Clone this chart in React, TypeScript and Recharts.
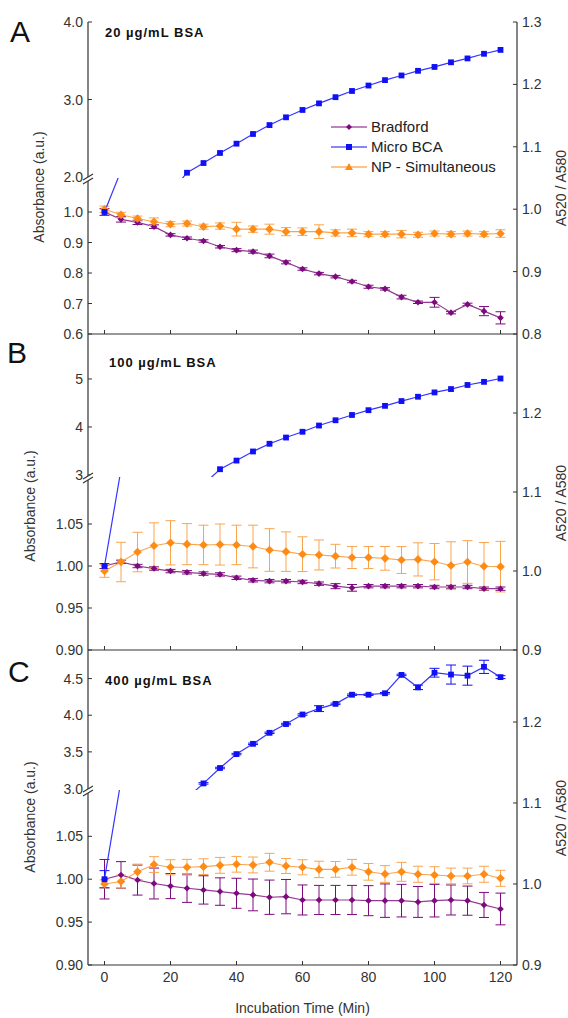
import { ComposedChart, Line, XAxis, YAxis, ErrorBar, Legend } from 'recharts';

const time = [0, 5, 10, 15, 20, 25, 30, 35, 40, 45, 50, 55, 60, 65, 70, 75, 80, 85, 90, 95, 100, 105, 110, 115, 120];
const xTicks = [0, 20, 40, 60, 80, 100, 120];

// A - 20 µg/mL BSA
const bradfordA = [1.0, 0.976, 0.966, 0.952, 0.925, 0.914, 0.905, 0.886, 0.875, 0.87, 0.856, 0.835, 0.813, 0.798, 0.788, 0.772, 0.755, 0.748, 0.721, 0.704, 0.704, 0.67, 0.697, 0.675, 0.653];
const bradfordAErr = [0.011, 0.009, 0.007, 0.006, 0.004, 0.004, 0.004, 0.004, 0.005, 0.005, 0.006, 0.005, 0.004, 0.004, 0.004, 0.004, 0.005, 0.004, 0.006, 0.004, 0.016, 0.004, 0.004, 0.015, 0.02];
const microBcaA = [1.0, 1.135, 1.4, 1.6, 1.8, 2.055, 2.18, 2.31, 2.43, 2.555, 2.67, 2.77, 2.865, 2.95, 3.03, 3.11, 3.18, 3.25, 3.31, 3.37, 3.42, 3.48, 3.53, 3.59, 3.64];
const npA = [1.0, 0.991, 0.985, 0.98, 0.976, 0.977, 0.972, 0.973, 0.968, 0.968, 0.968, 0.964, 0.964, 0.964, 0.962, 0.962, 0.96, 0.96, 0.96, 0.959, 0.961, 0.96, 0.961, 0.96, 0.961];
const npAErr = [0.005, 0.004, 0.004, 0.006, 0.004, 0.004, 0.004, 0.005, 0.011, 0.005, 0.008, 0.0065, 0.006, 0.011, 0.005, 0.006, 0.004, 0.004, 0.006, 0.004, 0.004, 0.004, 0.004, 0.004, 0.006];

// B - 100 µg/mL BSA
const bradfordB = [1.0, 1.005, 1.0, 0.997, 0.994, 0.9925, 0.991, 0.99, 0.986, 0.983, 0.982, 0.982, 0.981, 0.979, 0.976, 0.974, 0.976, 0.976, 0.976, 0.976, 0.975, 0.975, 0.975, 0.973, 0.973];
const bradfordBErr = [0.003, 0.002, 0.002, 0.002, 0.002, 0.002, 0.002, 0.002, 0.002, 0.002, 0.002, 0.002, 0.002, 0.002, 0.003, 0.004, 0.002, 0.002, 0.002, 0.002, 0.002, 0.002, 0.002, 0.002, 0.002];
const microBcaB = [1.0, 1.115, 1.6, 2.0, 2.3, 2.55, 2.8, 3.12, 3.3, 3.49, 3.65, 3.78, 3.9, 4.03, 4.14, 4.25, 4.35, 4.44, 4.54, 4.63, 4.72, 4.79, 4.875, 4.94, 5.01];
const npB = [1.0, 1.0114, 1.024, 1.032, 1.0357, 1.034, 1.033, 1.0335, 1.033, 1.031, 1.0266, 1.0245, 1.0213, 1.0203, 1.0188, 1.0171, 1.0171, 1.016, 1.0139, 1.0147, 1.0118, 1.007, 1.0114, 1.006, 1.0055];
const npBErr = [0.008, 0.025, 0.025, 0.029, 0.028, 0.026, 0.025, 0.026, 0.025, 0.027, 0.027, 0.025, 0.022, 0.019, 0.015, 0.014, 0.014, 0.015, 0.017, 0.021, 0.023, 0.03, 0.027, 0.03, 0.032];

// C - 400 µg/mL BSA
const bradfordC = [1.0, 1.005, 0.999, 0.995, 0.992, 0.9895, 0.9875, 0.9856, 0.9836, 0.9817, 0.979, 0.9797, 0.9758, 0.9758, 0.9758, 0.9758, 0.975, 0.975, 0.975, 0.9735, 0.975, 0.9758, 0.975, 0.97, 0.9653];
const bradfordCErr = [0.023, 0.0155, 0.0175, 0.018, 0.0146, 0.0165, 0.0165, 0.016, 0.0175, 0.0185, 0.02, 0.02, 0.0175, 0.017, 0.017, 0.017, 0.0175, 0.0195, 0.019, 0.018, 0.019, 0.0175, 0.017, 0.0146, 0.0185];
const microBcaC = [1.0, 1.115, 1.6, 2.1, 2.5, 2.87, 3.07, 3.28, 3.47, 3.61, 3.76, 3.88, 4.01, 4.09, 4.155, 4.28, 4.28, 4.3, 4.55, 4.38, 4.58, 4.555, 4.54, 4.66, 4.52];
const microBcaCErr = [0.01, 0, 0, 0, 0, 0, 0.01, 0.01, 0.01, 0.01, 0.01, 0.01, 0.01, 0.04, 0.01, 0.01, 0.01, 0.01, 0.01, 0.03, 0.06, 0.13, 0.13, 0.09, 0.02];
const npC = [1.0, 1.003, 1.015, 1.024, 1.0206, 1.0206, 1.0214, 1.023, 1.0243, 1.0235, 1.0268, 1.0222, 1.0206, 1.018, 1.018, 1.0206, 1.015, 1.0123, 1.015, 1.012, 1.011, 1.0099, 1.0099, 1.012, 1.007];
const npCErr = [0.005, 0.008, 0.0095, 0.0097, 0.0093, 0.0098, 0.0097, 0.0098, 0.0097, 0.0098, 0.011, 0.0093, 0.0093, 0.0101, 0.0097, 0.0097, 0.0103, 0.0103, 0.0117, 0.0099, 0.0103, 0.0097, 0.0097, 0.0099, 0.0099];

const seriesNames = ['Bradford', 'Micro BCA', 'NP - Simultaneous'];

const FONT = '"Liberation Sans", Arial, sans-serif';
const AXIS = '#333';
const PURPLE = '#7d0a7d';
const PURPLE_LINE = '#943a94';
const BLUE = '#1010f5';
const BLUE_LINE = '#3535ff';
const ORANGE = '#ff8a14';
const ORANGE_LINE = '#f9a54e';

type Row = { t: number; brad: number; bradErr: number; np: number; npErr: number; bca: number; bcaErr: number };

const makeRows = (brad: number[], bradErr: number[], bca: number[], bcaErr: number[] | null, np: number[], npErr: number[]): Row[] =>
  time.map((t, i) => ({
    t,
    brad: brad[i],
    bradErr: bradErr[i],
    np: np[i],
    npErr: npErr[i],
    bca: bca[i],
    bcaErr: bcaErr ? bcaErr[i] : 0,
  }));

const diamondDot = (r: number, fill: string) => (p: any) => {
  const { cx, cy, index } = p;
  if (cx == null || cy == null) return <g key={`e${index}`} />;
  return <path key={`d${index}`} d={`M${cx},${cy - r}L${cx + r},${cy}L${cx},${cy + r}L${cx - r},${cy}Z`} fill={fill} />;
};

const squareDot = (s: number, fill: string) => (p: any) => {
  const { cx, cy, index } = p;
  if (cx == null || cy == null) return <g key={`e${index}`} />;
  return <rect key={`s${index}`} x={cx - s / 2} y={cy - s / 2} width={s} height={s} fill={fill} />;
};

const leftTick = (digits: number) => (p: any) => {
  const { x, y, payload } = p;
  return (
    <g>
      <line x1={x} x2={x + 4} y1={y} y2={y} stroke={AXIS} />
      <text x={x - 5} y={y} dy="0.36em" textAnchor="end" fontSize={14} fill={AXIS} fontFamily={FONT}>
        {Number(payload.value).toFixed(digits)}
      </text>
    </g>
  );
};

const rightTick = (p: any) => {
  const { x, y, payload } = p;
  return (
    <g>
      <line x1={x} x2={x - 4} y1={y} y2={y} stroke={AXIS} />
      <text x={x + 5} y={y} dy="0.36em" textAnchor="start" fontSize={14} fill={AXIS} fontFamily={FONT}>
        {Number(payload.value).toFixed(1)}
      </text>
    </g>
  );
};

const bottomTick = (labels: boolean) => (p: any) => {
  const { x, y, payload } = p;
  return (
    <g>
      <line x1={x} x2={x} y1={y} y2={y - 4} stroke={AXIS} />
      {labels && (
        <text x={x} y={y + 17} textAnchor="middle" fontSize={14} fill={AXIS} fontFamily={FONT}>
          {payload.value}
        </text>
      )}
    </g>
  );
};

const renderLegend = () => (
  <svg width={200} height={60} style={{ overflow: 'visible' }}>
    {seriesNames.map((name, i) => {
      const y = 10 + i * 20;
      const color = [PURPLE, BLUE, ORANGE][i];
      return (
        <g key={name}>
          <line x1={4} x2={40} y1={y} y2={y} stroke={color} strokeWidth={1.2} />
          {i === 0 && <path d={`M22,${y - 3}L25,${y}L22,${y + 3}L19,${y}Z`} fill={color} />}
          {i === 1 && <rect x={19} y={y - 3} width={6} height={6} fill={color} />}
          {i === 2 && <path d={`M22,${y - 4}L26,${y + 3}L18,${y + 3}Z`} fill={color} />}
          <text x={44} y={y} dy="0.36em" fontSize={15} fill="#222" fontFamily={FONT}>
            {name}
          </text>
        </g>
      );
    })}
  </svg>
);

interface PanelCfg {
  rows: Row[];
  top: number;
  brk: number;
  bottom: number;
  hi: [number, number];
  lo: [number, number];
  rHi: [number, number];
  rLo: [number, number];
  hiTicks: number[];
  loTicks: number[];
  rHiTicks: number[];
  rLoTicks: number[];
  hiDigits: number;
  loDigits: number;
  bcaErr: boolean;
  xLabels: boolean;
  legend: boolean;
}

const panels: PanelCfg[] = [
  {
    rows: makeRows(bradfordA, bradfordAErr, microBcaA, null, npA, npAErr),
    top: 22, brk: 178, bottom: 334,
    hi: [1.987, 4.0], lo: [0.6, 1.1115], rHi: [1.05, 1.3], rLo: [0.8, 1.05],
    hiTicks: [2, 3, 4], loTicks: [0.6, 0.7, 0.8, 0.9, 1.0], rHiTicks: [1.1, 1.2, 1.3], rLoTicks: [0.8, 0.9, 1.0],
    hiDigits: 1, loDigits: 1, bcaErr: false, xLabels: false, legend: true,
  },
  {
    rows: makeRows(bradfordB, bradfordBErr, microBcaB, null, npB, npBErr),
    top: 334, brk: 477, bottom: 650,
    hi: [2.958, 5.937], lo: [0.9, 1.106], rHi: [1.119, 1.3], rLo: [0.9, 1.119],
    hiTicks: [3, 4, 5], loTicks: [0.9, 0.95, 1.0, 1.05], rHiTicks: [1.2], rLoTicks: [0.9, 1.0, 1.1],
    hiDigits: 0, loDigits: 2, bcaErr: false, xLabels: false, legend: false,
  },
  {
    rows: makeRows(bradfordC, bradfordCErr, microBcaC, microBcaCErr, npC, npCErr),
    top: 650, brk: 790, bottom: 965,
    hi: [2.98, 4.89], lo: [0.9, 1.104], rHi: [1.116, 1.289], rLo: [0.9, 1.116],
    hiTicks: [3.0, 3.5, 4.0, 4.5], loTicks: [0.9, 0.95, 1.0, 1.05], rHiTicks: [1.2], rLoTicks: [0.9, 1.0, 1.1],
    hiDigits: 1, loDigits: 2, bcaErr: true, xLabels: true, legend: false,
  },
];

const axisCommon = { tickSize: 0, tickMargin: 0, tickLine: false, allowDataOverflow: true, interval: 0 as const, axisLine: { stroke: AXIS, strokeWidth: 1.2 } };

function Panel({ cfg }: { cfg: PanelCfg }) {
  const upperTop = cfg.top - 12;
  const xh = cfg.xLabels ? 53 : 8;
  return (
    <>
      <div style={{ position: 'absolute', left: 0, top: upperTop }}>
        <ComposedChart width={568} height={cfg.brk - upperTop + 10} data={cfg.rows} margin={{ top: 12, right: 0, bottom: 10, left: 0 }}>
          <XAxis type="number" dataKey="t" domain={[-5, 125]} hide allowDataOverflow />
          <YAxis yAxisId="l" type="number" domain={cfg.hi} ticks={cfg.hiTicks} width={88} tick={leftTick(cfg.hiDigits)} {...axisCommon} />
          <YAxis yAxisId="r" type="number" orientation="right" domain={cfg.rHi} ticks={cfg.rHiTicks} width={51} tick={rightTick} {...axisCommon} />
          <Line yAxisId="l" dataKey="bca" stroke={BLUE_LINE} strokeWidth={1.2} dot={squareDot(5.8, BLUE)} isAnimationActive={false}>
            {cfg.bcaErr && <ErrorBar dataKey="bcaErr" width={5} strokeWidth={1} stroke={BLUE} direction="y" />}
          </Line>
          {cfg.legend && (
            <Legend layout="vertical" align="center" verticalAlign="middle" content={renderLegend} wrapperStyle={{ left: 327, top: 107, width: 200, height: 60 }} />
          )}
        </ComposedChart>
      </div>
      <div style={{ position: 'absolute', left: 0, top: cfg.brk }}>
        <ComposedChart width={568} height={cfg.bottom - cfg.brk + xh} data={cfg.rows} margin={{ top: 0, right: 0, bottom: 0, left: 0 }}>
          <XAxis
            type="number"
            dataKey="t"
            domain={[-5, 125]}
            ticks={xTicks}
            height={xh}
            tick={bottomTick(cfg.xLabels)}
            {...axisCommon}
            label={cfg.xLabels ? { value: 'Incubation Time (Min)', position: 'insideBottom', offset: 5, fill: AXIS, fontSize: 14, fontFamily: FONT } : undefined}
          />
          <YAxis yAxisId="l" type="number" domain={cfg.lo} ticks={cfg.loTicks} width={88} tick={leftTick(cfg.loDigits)} {...axisCommon} />
          <YAxis yAxisId="r" type="number" orientation="right" domain={cfg.rLo} ticks={cfg.rLoTicks} width={51} tick={rightTick} {...axisCommon} />
          <Line yAxisId="l" dataKey="brad" stroke={PURPLE_LINE} strokeWidth={1.2} dot={diamondDot(3.3, PURPLE)} isAnimationActive={false}>
            <ErrorBar dataKey="bradErr" width={5} strokeWidth={1} stroke={PURPLE} direction="y" />
          </Line>
          <Line yAxisId="r" dataKey="np" stroke={ORANGE_LINE} strokeWidth={1.1} dot={diamondDot(4.3, ORANGE)} isAnimationActive={false}>
            <ErrorBar dataKey="npErr" width={5} strokeWidth={1} stroke={ORANGE_LINE} direction="y" />
          </Line>
          <Line yAxisId="l" dataKey="bca" stroke={BLUE_LINE} strokeWidth={1.2} dot={squareDot(5.8, BLUE)} isAnimationActive={false}>
            {cfg.bcaErr && <ErrorBar dataKey="bcaErr" width={5} strokeWidth={1} stroke={BLUE} direction="y" />}
          </Line>
        </ComposedChart>
      </div>
    </>
  );
}

const letters = [
  { text: 'A', x: 10, y: 42 },
  { text: 'B', x: 7, y: 363 },
  { text: 'C', x: 8, y: 682 },
];
const titles = [
  { text: '20 µg/mL BSA', x: 105, y: 37 },
  { text: '100 µg/mL BSA', x: 109, y: 367 },
  { text: '400 µg/mL BSA', x: 105, y: 685 },
];
const yTitles = [
  { lx: 39, ly: 187, ry: 188 },
  { lx: 30, ly: 506, ry: 503 },
  { lx: 30, ly: 817, ry: 818 },
];

export default function App() {
  return (
    <div style={{ position: 'absolute', left: 0, top: 0, width: 568, height: 1018, background: '#fff', overflow: 'hidden' }}>
      {panels.map((p, i) => (
        <Panel key={i} cfg={p} />
      ))}
      <svg width={568} height={1018} style={{ position: 'absolute', left: 0, top: 0, pointerEvents: 'none' }}>
        {panels.map((p, i) => (
          <g key={`brk${i}`}>
            <path d={`M83,${p.brk + 2}L93,${p.brk - 4}L93,${p.brk}L83,${p.brk + 6}Z`} fill="#fff" />
            <line x1={83} y1={p.brk + 2} x2={93} y2={p.brk - 4} stroke={AXIS} strokeWidth={1.1} />
            <line x1={83} y1={p.brk + 6} x2={93} y2={p.brk} stroke={AXIS} strokeWidth={1.1} />
          </g>
        ))}
        {letters.map((l) => (
          <text key={l.text} x={l.x} y={l.y} fontSize={30} fill="#111" fontFamily={FONT}>
            {l.text}
          </text>
        ))}
        {titles.map((t) => (
          <text key={t.text} x={t.x} y={t.y} fontSize={13} fontWeight="bold" letterSpacing={1} fill="#111" fontFamily={FONT}>
            {t.text}
          </text>
        ))}
        {yTitles.map((t, i) => (
          <g key={`yt${i}`}>
            <text transform={`translate(${t.lx},${t.ly}) rotate(-90)`} textAnchor="middle" dy="0.36em" fontSize={14} fill={AXIS} fontFamily={FONT}>
              Absorbance (a.u.)
            </text>
            <text transform={`translate(561,${t.ry}) rotate(-90)`} textAnchor="middle" dy="0.36em" fontSize={14} fill={AXIS} fontFamily={FONT}>
              A520 / A580
            </text>
          </g>
        ))}
      </svg>
    </div>
  );
}
